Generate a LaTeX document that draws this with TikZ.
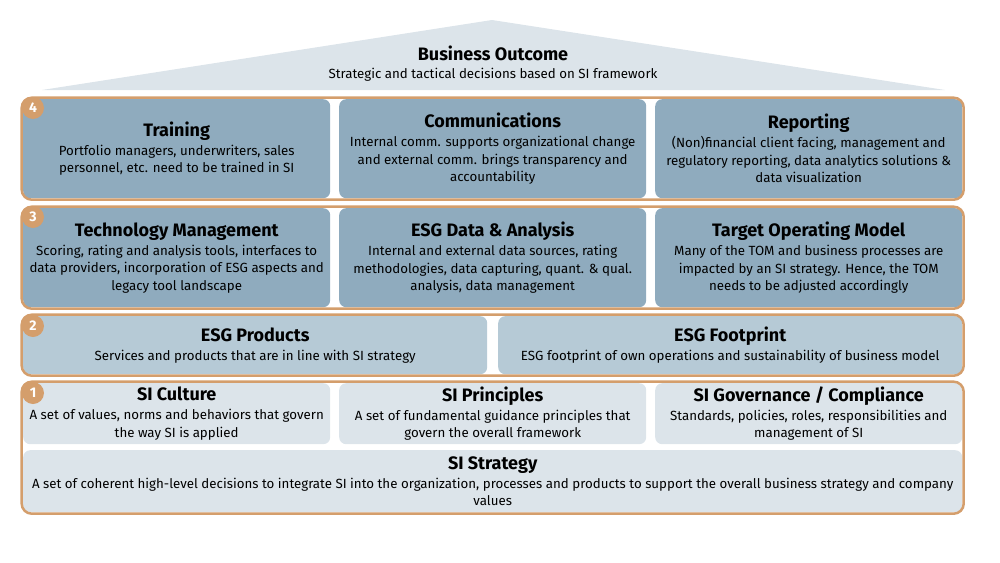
\documentclass[tikz,border=0pt]{standalone}
\usepackage{fontspec}
\setmainfont{Fira Sans}
\usetikzlibrary{fit}
\definecolor{roofc}{HTML}{DCE4EA}
\definecolor{darkc}{HTML}{8FABBE}
\definecolor{midc}{HTML}{B6CAD6}
\definecolor{lightc}{HTML}{DCE4EA}
\definecolor{orangec}{HTML}{D49E6C}
\tikzset{
  box/.style={rounded corners=7pt, inner sep=0pt, align=center, anchor=north west,
    font=\fontsize{13.3}{17.5}\selectfont},
  frame/.style={draw=orangec, line width=2.5pt, rounded corners=10pt, inner sep=1.3pt},
  badge/.style={circle, fill=orangec, text=white, inner sep=0pt, minimum size=22pt,
    font=\bfseries\fontsize{14}{14}\selectfont},
}
\newcommand{\ttlf}[1]{{\bfseries\fontsize{18}{20}\selectfont #1}}
\begin{document}
\begin{tikzpicture}[x=1pt,y=-1pt]
\useasboundingbox (0,0) rectangle (1000,562);
% roof
\fill[roofc] (42,90) -- (492,20) -- (945,90) -- cycle;
\node[align=center, font=\fontsize{13.3}{18}\selectfont] (outcome) at (493,64)
  {\ttlf{Business Outcome}\\[0pt]Strategic and tactical decisions based on SI framework};
% layer 4
\node[box, fill=darkc, minimum width=307pt, minimum height=99pt] (training) at (23,99)
  {\ttlf{Training}\\[1.5pt]Portfolio managers, underwriters, sales\\personnel, etc. need to be trained in SI};
\node[box, fill=darkc, minimum width=307pt, minimum height=99pt] (comm) at (339,99)
  {\ttlf{Communications}\\[1.5pt]Internal comm. supports organizational change\\and external comm. brings transparency and\\accountability};
\node[box, fill=darkc, minimum width=307pt, minimum height=99pt] (reporting) at (655,99)
  {\ttlf{Reporting}\\[1.5pt](Non)financial client facing, management and\\regulatory reporting, data analytics solutions \&\\data visualization};
\node[frame, fit=(training)(reporting)] (l4) {};
% layer 3
\node[box, fill=darkc, minimum width=307pt, minimum height=99pt] (tech) at (23,208)
  {\ttlf{Technology Management}\\[1.5pt]Scoring, rating and analysis tools, interfaces to\\data providers, incorporation of ESG aspects and\\legacy tool landscape};
\node[box, fill=darkc, minimum width=307pt, minimum height=99pt] (data) at (339,208)
  {\ttlf{ESG Data \& Analysis}\\[1.5pt]Internal and external data sources, rating\\methodologies, data capturing, quant. \& qual.\\analysis, data management};
\node[box, fill=darkc, minimum width=307pt, minimum height=99pt] (tom) at (655,208)
  {\ttlf{Target Operating Model}\\[1.5pt]Many of the TOM and business processes are\\impacted by an SI strategy. Hence, the TOM\\needs to be adjusted accordingly};
\node[frame, fit=(tech)(tom)] (l3) {};
% layer 2
\node[box, fill=midc, minimum width=464pt, minimum height=58pt] (products) at (23,316)
  {\ttlf{ESG Products}\\[1.5pt]Services and products that are in line with SI strategy};
\node[box, fill=midc, minimum width=464pt, minimum height=58pt] (footprint) at (498,316)
  {\ttlf{ESG Footprint}\\[1.5pt]ESG footprint of own operations and sustainability of business model};
\node[frame, fit=(products)(footprint)] (l2) {};
% layer 1
\node[box, fill=lightc, minimum width=307pt, minimum height=61pt] (culture) at (23,383)
  {\ttlf{SI Culture}\\[1.5pt]A set of values, norms and behaviors that govern\\the way SI is applied};
\node[box, fill=lightc, minimum width=307pt, minimum height=61pt] (principles) at (339,383)
  {\ttlf{SI Principles}\\[1.5pt]A set of fundamental guidance principles that\\govern the overall framework};
\node[box, fill=lightc, minimum width=307pt, minimum height=61pt] (gov) at (655,383)
  {\ttlf{SI Governance / Compliance}\\[1.5pt]Standards, policies, roles, responsibilities and\\management of SI};
\node[box, fill=lightc, minimum width=939pt, minimum height=62pt] (strategy) at (23,450)
  {\ttlf{SI Strategy}\\[1.5pt]A set of coherent high-level decisions to integrate SI into the organization, processes and products to support the overall business strategy and company\\values};
\node[frame, fit=(culture)(strategy)] (l1) {};
% badges
\node[badge] (b4) at (33,108) {4};
\node[badge] (b3) at (33,217) {3};
\node[badge] (b2) at (33,326) {2};
\node[badge] (b1) at (33,393) {1};
\end{tikzpicture}
\end{document}
